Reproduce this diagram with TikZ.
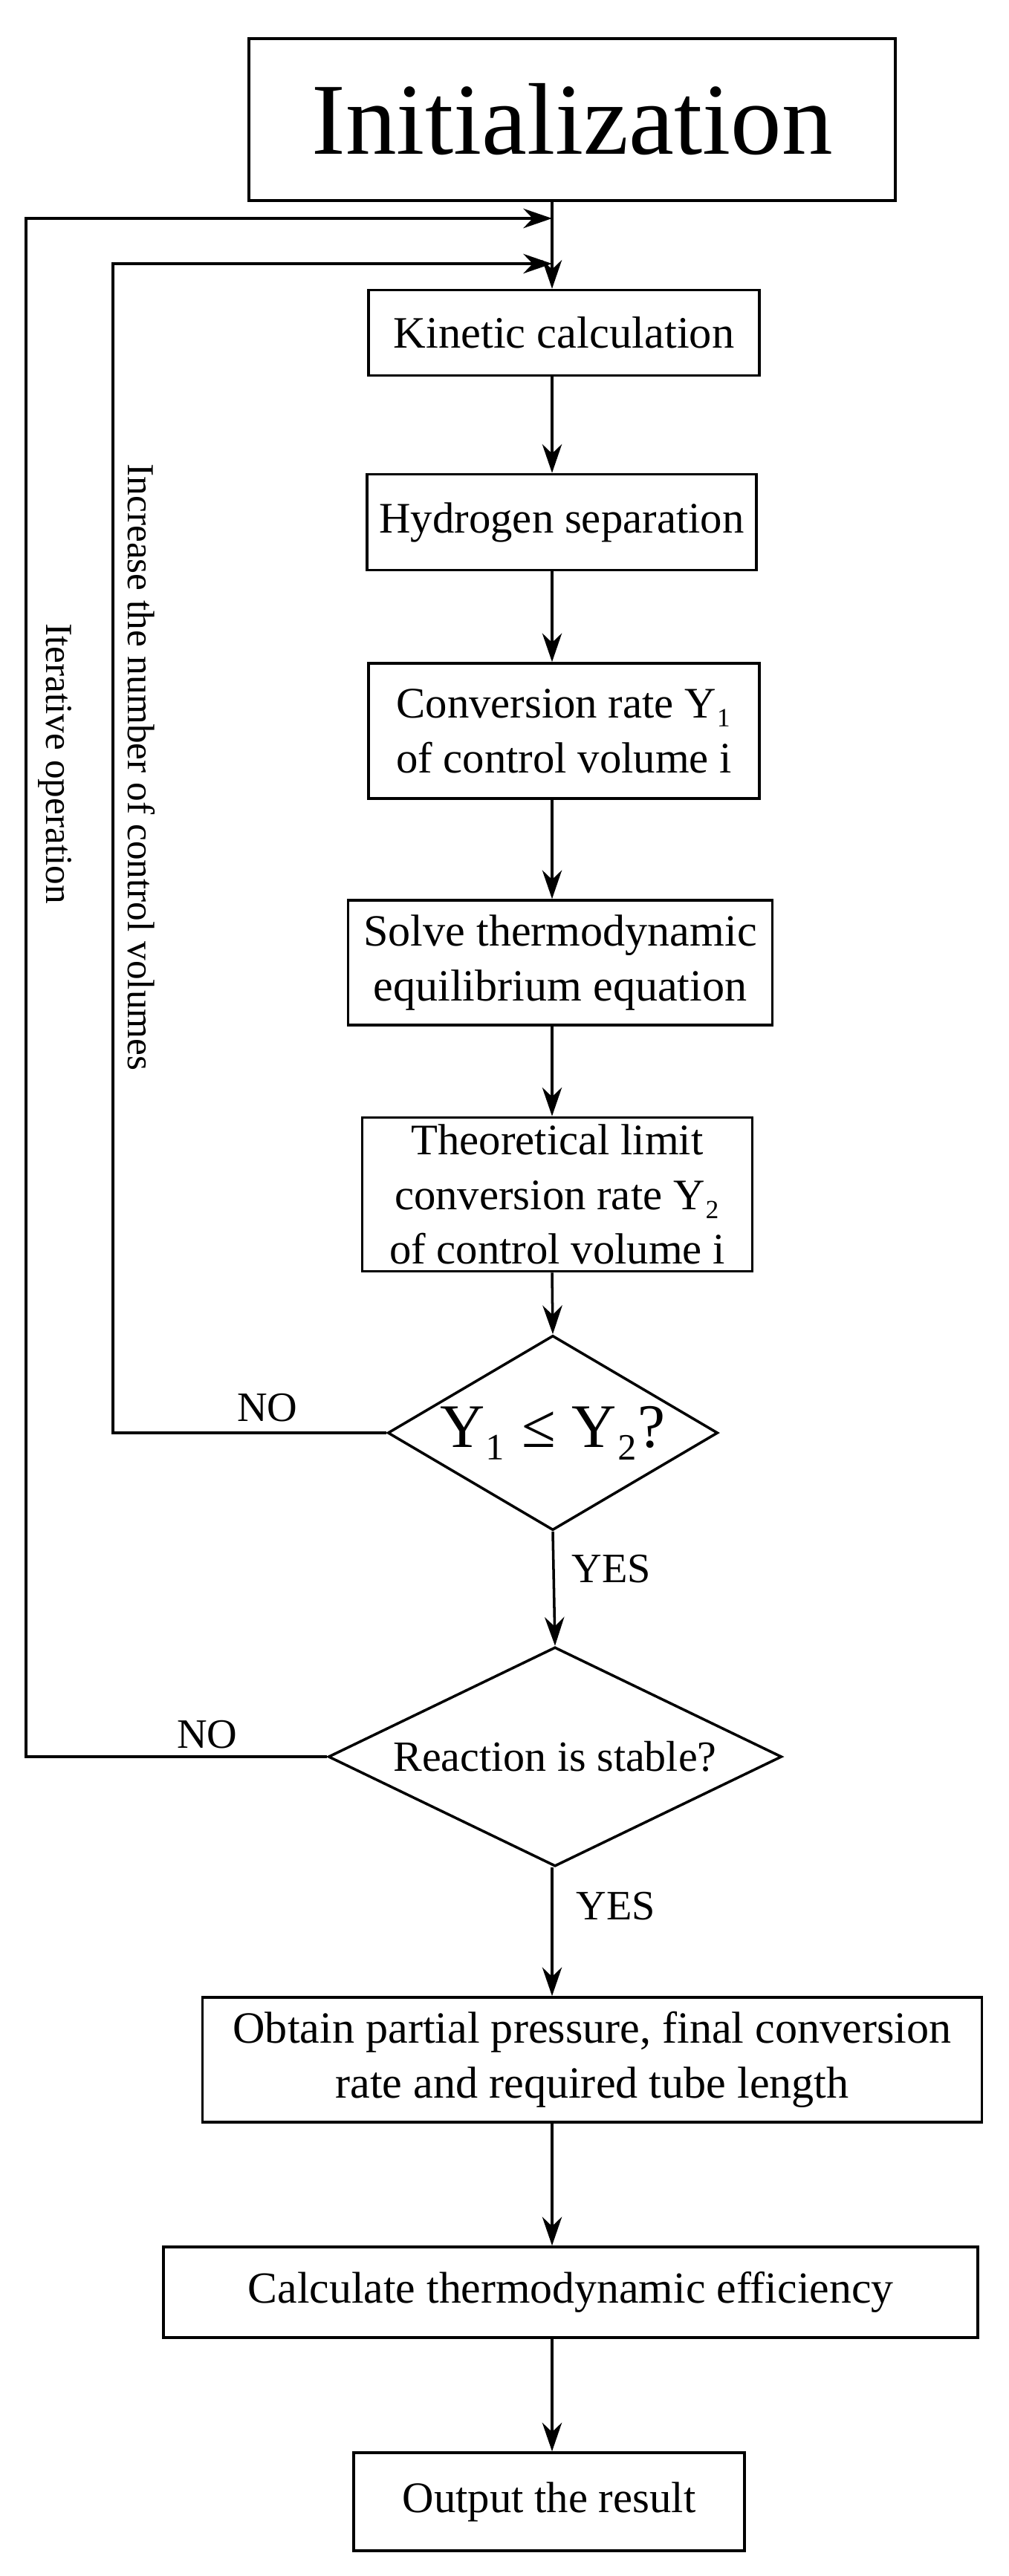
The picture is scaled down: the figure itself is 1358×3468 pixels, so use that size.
\documentclass[tikz,border=0pt]{standalone}
\usepackage{fontspec}
\setmainfont{Liberation Serif}
\usetikzlibrary{shapes.geometric,arrows.meta}
\begin{document}
\begin{tikzpicture}[x=0.01cm,y=-0.01cm,
  box/.style={draw,line width=1pt,align=center,inner sep=0pt,font=\fontsize{16.7}{21}\selectfont},
  dia/.style={draw,line width=1pt,diamond,inner sep=0pt,align=center},
  arr/.style={-{Stealth[length=11pt,width=7.5pt]},line width=1pt},
  lbl/.style={font=\fontsize{16}{19}\selectfont},
  rlbl/.style={font=\fontsize{14.6}{18}\selectfont,rotate=-90}]
\useasboundingbox (0,0) rectangle (1358,3468);
\node[box,minimum width=8.69cm,minimum height=2.18cm,font=\fontsize{39}{44}\selectfont] (init) at (770,161) {Initialization};
\node[box,minimum width=5.26cm,minimum height=1.15cm,font=\fontsize{17.2}{21}\selectfont] (kin) at (759,448) {Kinetic calculation};
\node[box,minimum width=5.24cm,minimum height=1.29cm] (hyd) at (756,703) {Hydrogen separation};
\node[box,minimum width=5.26cm,minimum height=1.82cm] (conv) at (759,984) {Conversion rate Y₁\\of control volume i};
\node[box,minimum width=5.71cm,minimum height=1.68cm,font=\fontsize{17.1}{21}\selectfont] (solve) at (754,1296) {Solve thermodynamic\\equilibrium equation};
\node[box,minimum width=5.25cm,minimum height=2.07cm] (theo) at (750,1608) {Theoretical limit\\conversion rate Y₂\\of control volume i};
\node[dia,aspect=1.7,minimum width=4.44cm,minimum height=2.62cm,font=\fontsize{23.7}{28}\selectfont] (d1) at (744,1929) {Y₁ ≤ Y₂?};
\node[dia,aspect=2.07,minimum width=6.1cm,minimum height=2.95cm,font=\fontsize{16.5}{20}\selectfont] (d2) at (747,2365) {Reaction is stable?};
\node[box,minimum width=10.48cm,minimum height=1.68cm,font=\fontsize{17.1}{21}\selectfont] (obt) at (797,2773) {Obtain partial pressure, final conversion\\rate and required tube length};
\node[box,minimum width=10.95cm,minimum height=1.22cm,font=\fontsize{17}{21}\selectfont] (calc) at (768,3086) {Calculate thermodynamic efficiency};
\node[box,minimum width=5.26cm,minimum height=1.32cm] (out) at (739,3368) {Output the result};
\coordinate (mx) at (743,0);
\coordinate (c2) at (743,294);
\coordinate (c1) at (743,355);
\draw[arr] (init.south -| mx) -- (kin.north -| mx);
\draw[arr] (kin.south -| mx) -- (hyd.north -| mx);
\draw[arr] (hyd.south -| mx) -- (conv.north -| mx);
\draw[arr] (conv.south -| mx) -- (solve.north -| mx);
\draw[arr] (solve.south -| mx) -- (theo.north -| mx);
\draw[arr] (theo.south -| mx) -- (d1.north);
\draw[arr] (d1.south) -- (d2.north);
\draw[arr] (d2.south -| mx) -- (obt.north -| mx);
\draw[arr] (obt.south -| mx) -- (calc.north -| mx);
\draw[arr] (calc.south -| mx) -- (out.north -| mx);
\draw[arr] (d1.west) -- (152,1929) |- (c1);
\draw[arr] (d2.west) -- (35,2365) |- (c2);
\node[lbl] (n1) at (360,1895) {NO};
\node[lbl] (n2) at (279,2335) {NO};
\node[lbl] (y1) at (823,2112) {YES};
\node[lbl] (y2) at (829,2566) {YES};
\node[rlbl] (t1) at (190,1033) {Increase the number of control volumes};
\node[rlbl] (t2) at (74,1028) {Iterative operation};
\end{tikzpicture}
\end{document}
